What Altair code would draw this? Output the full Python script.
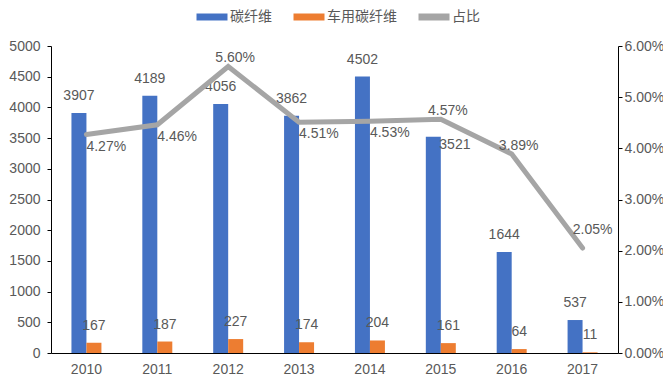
import altair as alt
import pandas as pd

years = ["2010", "2011", "2012", "2013", "2014", "2015", "2016", "2017"]
carbon_fiber = [3907, 4189, 4056, 3862, 4502, 3521, 1644, 537]
auto_carbon_fiber = [167, 187, 227, 174, 204, 161, 64, 11]
share_pct = [4.27, 4.46, 5.60, 4.51, 4.53, 4.57, 3.89, 2.05]

series_names = ["碳纤维", "车用碳纤维", "占比"]
colors = ["#4472C4", "#ED7D31", "#A5A5A5"]

Y_MAX = 5000
S_MAX = 0.06
PLOT_H = 307

# labelling rules (derived from the values, not typed positions)
share_frac = [v / 100 / S_MAX for v in share_pct]
bar_frac = [v / Y_MAX for v in carbon_fiber]
clash = [abs((b * PLOT_H + 17) - s * PLOT_H) < 10 for b, s in zip(bar_frac, share_frac)]
nxt = share_pct[1:] + [None]
share_above = [n is None or n <= c for c, n in zip(share_pct, nxt)]
is_last = [i == len(years) - 1 for i in range(len(years))]

bars_df = pd.DataFrame({
    "year": years * 2,
    "series": [series_names[0]] * len(years) + [series_names[1]] * len(years),
    "value": carbon_fiber + auto_carbon_fiber,
    "clash": clash + [False] * len(years),
})
line_df = pd.DataFrame({
    "year": years,
    "share": [v / 100 for v in share_pct],
    "above": share_above,
    "last": is_last,
})

FONT = "Liberation Sans"
TXT = "#595959"

x_enc = alt.X(
    "year:N",
    sort=years,
    scale=alt.Scale(paddingInner=0.577, paddingOuter=0.2885),
    axis=alt.Axis(title=None, labelAngle=0, ticks=False, domainColor="#000000",
                  labelFont=FONT, labelFontSize=14, labelColor=TXT, labelPadding=9),
)

y_left = alt.Y(
    "value:Q",
    scale=alt.Scale(domain=[0, Y_MAX]),
    axis=alt.Axis(title=None, grid=False, values=list(range(0, 5001, 500)), format="d",
                  domainColor="#000000", tickColor="#000000", tickSize=4,
                  labelPadding=7, labelFont=FONT, labelFontSize=14, labelColor=TXT),
)

y_right = alt.Y(
    "share:Q",
    scale=alt.Scale(domain=[0, S_MAX]),
    axis=alt.Axis(title=None, grid=False, orient="right", format=".2%",
                  values=[0, 0.01, 0.02, 0.03, 0.04, 0.05, 0.06],
                  domainColor="#000000", tickColor="#000000", tickSize=4,
                  labelPadding=2, labelFont=FONT, labelFontSize=14, labelColor=TXT),
)

x_off = alt.XOffset("series:N", sort=series_names[:2],
                    scale=alt.Scale(paddingInner=0, paddingOuter=0))

bar_base = alt.Chart(bars_df).encode(x=x_enc, xOffset=x_off, y=y_left)

bars = bar_base.mark_bar().encode(
    color=alt.Color(
        "series:N",
        scale=alt.Scale(domain=series_names, range=colors),
        legend=alt.Legend(
            title=None, orient="none", direction="horizontal",
            legendX=154, legendY=-36,
            symbolType="M-3.1,-0.7L3.1,-0.7L3.1,0.7L-3.1,0.7Z",
            symbolSize=100, symbolStrokeWidth=0, symbolOpacity=1,
            labelFont="Noto Sans CJK SC", labelFontSize=14, labelColor=TXT,
            labelOffset=11, columnPadding=21, padding=0,
        ),
        sort=series_names,
    )
)

bar_text = bar_base.mark_text(
    font=FONT, fontSize=14, color=TXT, baseline="middle", dy=-17
).encode(text="value:Q").transform_filter("!datum.clash")

bar_text_side = bar_base.mark_text(
    font=FONT, fontSize=14, color=TXT, align="left", baseline="middle", dx=6, dy=8
).encode(text="value:Q").transform_filter("datum.clash")

line_base = alt.Chart(line_df).encode(x=x_enc, y=y_right)

line = line_base.mark_line(color="#A5A5A5", strokeWidth=5, strokeCap="round")

fmt = alt.Text("share:Q", format=".2%")

line_text_below = line_base.mark_text(
    font=FONT, fontSize=14, color=TXT, align="left", baseline="middle", dx=0, dy=12
).encode(text=fmt).transform_filter("!datum.above")

line_text_above = line_base.mark_text(
    font=FONT, fontSize=14, color=TXT, align="center", baseline="middle", dx=7, dy=-8
).encode(text=fmt).transform_filter("datum.above && !datum.last")

line_text_end = line_base.mark_text(
    font=FONT, fontSize=14, color=TXT, align="center", baseline="middle", dx=10, dy=-18
).encode(text=fmt).transform_filter("datum.last")

left = alt.layer(bars, bar_text, bar_text_side)
right = alt.layer(line, line_text_below, line_text_above, line_text_end)

chart = alt.layer(left, right).resolve_scale(y="independent").properties(
    width=567, height=PLOT_H,
    padding={"left": 43, "top": 38, "right": 45, "bottom": 22},
    autosize="none",
).configure_view(stroke=None)

chart.save("out.html", embed_options={"renderer": "svg", "actions": False})
